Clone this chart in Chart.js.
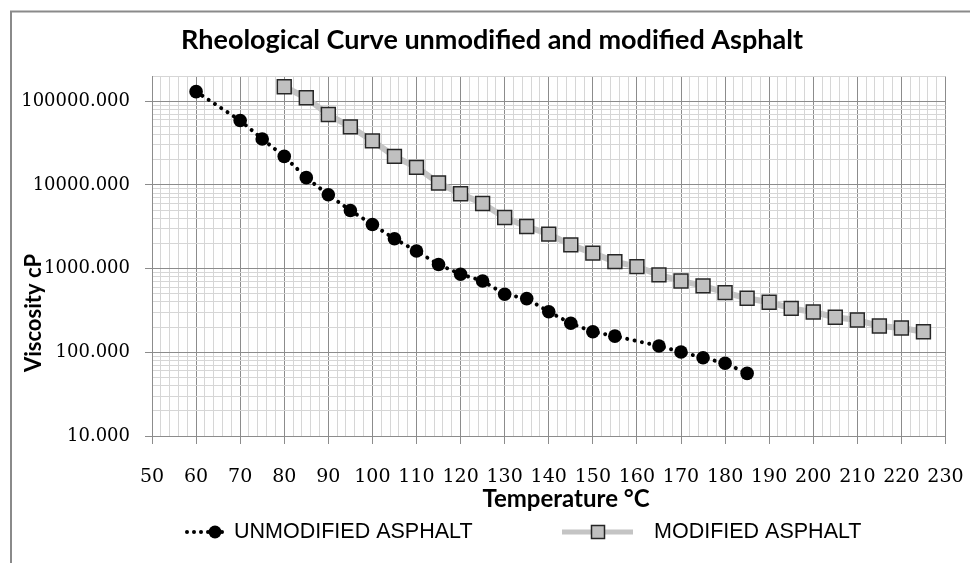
<!DOCTYPE html>
<html><head><meta charset="utf-8">
<script src="https://cdn.jsdelivr.net/npm/chart.js@4.4.1/dist/chart.umd.min.js"></script>
<style>html,body{margin:0;padding:0;background:#fff;}canvas{display:block}</style>
</head><body>
<div style="width:970px;height:563px"><canvas id="c" width="970" height="563"></canvas></div>
<script>
// ---- data ----
const tempUnmodified = [60,70,75,80,85,90,95,100,105,110,115,120,125,130,135,140,145,150,155,165,170,175,180,185];
const viscUnmodified = [130000,58800,35400,21900,12200,7630,4950,3370,2270,1620,1120,857,712,494,438,305,222,176,156,119,101,86,74,56];
const tempModified = [80,85,90,95,100,105,110,115,120,125,130,135,140,145,150,155,160,165,170,175,180,185,190,195,200,205,210,215,220,225];
const viscModified = [148700,109800,69300,49400,33600,21950,16200,10540,7850,6000,4080,3180,2580,1920,1530,1213,1057,841,712,621,516,442,396,335,303,262,243,206,195,176];
const xTickLabels = [50,60,70,80,90,100,110,120,130,140,150,160,170,180,190,200,210,220,230];
const yTickLabels = [10,100,1000,10000,100000];
const seriesNames = ['UNMODIFIED ASPHALT','MODIFIED ASPHALT'];
const titleText = 'Rheological Curve unmodified and modified Asphalt';
const xTitle = 'Temperature °C';
const yTitle = 'Viscosity cP';

// ---- layout / style ----
const PAD_L = 14, CANVAS_W = 970, CANVAS_H = 563;
const PLOT_L = 152, PLOT_R = 945.5, PLOT_T = 76, PLOT_B = 436;
const MAJOR = '#8c8c8c', MINOR = '#d6d6d6';
const sansBold = "Lato, Calibri, 'Open Sans', sans-serif";
const serif = "'DejaVu Serif', Cambria, serif";

const frame = {
  id: 'frame',
  beforeDraw(chart) {
    const ctx = chart.ctx;
    ctx.save();
    ctx.fillStyle = '#fff';
    ctx.fillRect(0, 0, chart.width, chart.height);
    ctx.strokeStyle = '#8a8a8a'; ctx.lineWidth = 2;
    ctx.beginPath(); ctx.moveTo(11, chart.height + 5); ctx.lineTo(11, 11.5); ctx.lineTo(chart.width + 5, 11.5); ctx.stroke();
    ctx.restore();
  }
};

// axis titles (placed where the reference has them) and the legend
const annotations = {
  id: 'annotations',
  afterDraw(chart) {
    const ctx = chart.ctx;
    ctx.save();
    ctx.fillStyle = '#000';
    ctx.textAlign = 'center'; ctx.textBaseline = 'middle';
    // x-axis title
    ctx.font = "bold 24px " + sansBold;
    ctx.fillText(xTitle, 566, 499);
    // y-axis title
    ctx.translate(34, 313);
    ctx.rotate(-Math.PI / 2);
    ctx.font = "bold 22px " + sansBold;
    ctx.fillText(yTitle, 0, 0);
    ctx.restore();

    const cy = 532;
    ctx.save();
    // unmodified: dotted black line with circle
    ctx.fillStyle = '#000';
    for (let x = 187; x <= 227; x += 7) { ctx.beginPath(); ctx.arc(x, cy, 2, 0, Math.PI * 2); ctx.fill(); }
    ctx.beginPath(); ctx.arc(215, cy, 6.5, 0, Math.PI * 2); ctx.fill();
    // modified: grey line with square
    ctx.strokeStyle = '#c4c4c4'; ctx.lineWidth = 5;
    ctx.beginPath(); ctx.moveTo(562, cy); ctx.lineTo(633, cy); ctx.stroke();
    ctx.fillStyle = '#c0c0c0'; ctx.fillRect(591.5, cy - 6.5, 13, 13);
    ctx.strokeStyle = '#262626'; ctx.lineWidth = 1.5; ctx.strokeRect(591.5, cy - 6.5, 13, 13);
    // labels
    ctx.fillStyle = '#000';
    ctx.font = "21.5px 'Liberation Sans', Arial, sans-serif";
    ctx.textBaseline = 'middle'; ctx.textAlign = 'left';
    ctx.fillText(chart.data.datasets[0].label, 234, cy);
    ctx.fillText(chart.data.datasets[1].label, 654, cy);
    ctx.restore();
  }
};

const isMajorX = v => xTickLabels.includes(v);
const isMajorY = v => yTickLabels.includes(v);

new Chart(document.getElementById('c'), {
  type: 'scatter',
  data: {
    datasets: [
      {
        label: seriesNames[0],
        data: tempUnmodified.map((t, i) => ({x: t, y: viscUnmodified[i]})),
        showLine: true,
        borderColor: '#000', borderWidth: 4, borderDash: [0.01, 7.5], borderCapStyle: 'round',
        pointStyle: 'circle', pointRadius: 6.8, pointHoverRadius: 6.8,
        pointBackgroundColor: '#000', pointBorderWidth: 0, backgroundColor: '#000'
      },
      {
        label: seriesNames[1],
        data: tempModified.map((t, i) => ({x: t, y: viscModified[i]})),
        showLine: true,
        borderColor: '#c4c4c4', borderWidth: 6,
        pointStyle: 'rect', pointRadius: 9.8, pointHoverRadius: 9.8,
        pointBackgroundColor: '#c0c0c0', pointBorderColor: '#262626', pointBorderWidth: 1.5, backgroundColor: '#c0c0c0'
      }
    ]
  },
  options: {
    responsive: false, animation: false, devicePixelRatio: 1,
    layout: {padding: {left: PAD_L, right: 0, top: 14, bottom: 0}},
    plugins: {
      tooltip: {enabled: false},
      legend: {display: false},
      title: {
        display: true, text: titleText, color: '#000',
        font: {family: sansBold, size: 27, weight: 'bold', lineHeight: 1.2},
        padding: {top: 10, bottom: PLOT_T - 14 - 10 - 27 * 1.2}
      }
    },
    scales: {
      x: {
        type: 'linear', min: 50, max: 230,
        afterBuildTicks(scale) {
          const t = [];
          for (let v = 50; v <= 230; v += 2) t.push({value: v});
          scale.ticks = t;
        },
        afterFit(scale) { scale.height = CANVAS_H - PLOT_B; scale.paddingLeft = 0; scale.paddingRight = 0; },
        ticks: {
          autoSkip: false, maxRotation: 0, color: '#000', padding: 22,
          font: {family: serif, size: 19},
          callback: v => (isMajorX(v) ? String(v) : '')
        },
        grid: {
          color: c => (c.tick && isMajorX(c.tick.value) ? MAJOR : MINOR),
          tickColor: c => (c.tick && isMajorX(c.tick.value) ? MAJOR : 'rgba(0,0,0,0)'),
          tickLength: 8, lineWidth: 1
        },
        border: {color: MAJOR},
        title: {display: false, text: xTitle}
      },
      y: {
        type: 'logarithmic', min: 10, max: 200000,
        afterBuildTicks(scale) {
          const t = [];
          for (const d of [10, 100, 1000, 10000, 100000]) {
            for (let m = 1; m <= 9; m++) { const v = d * m; if (v <= 200000) t.push({value: v}); }
          }
          t.push({value: 200000});
          scale.ticks = t;
        },
        afterFit(scale) { scale.width = PLOT_L - PAD_L; scale.paddingTop = 0; scale.paddingBottom = 0; },
        ticks: {
          autoSkip: false, color: '#000', padding: 15,
          font: {family: serif, size: 18},
          callback: v => (isMajorY(v) ? v.toFixed(3) : '')
        },
        grid: {
          color: c => (c.tick && isMajorY(c.tick.value) ? MAJOR : MINOR),
          tickColor: c => (c.tick && isMajorY(c.tick.value) ? MAJOR : 'rgba(0,0,0,0)'),
          tickLength: 7, lineWidth: 1
        },
        border: {color: MAJOR},
        title: {display: false, text: yTitle}
      },
      yr: {
        type: 'linear', position: 'right', display: true,
        grid: {display: false}, border: {display: false}, ticks: {display: false},
        afterFit(scale) { scale.width = CANVAS_W - PLOT_R; }
      }
    }
  },
  plugins: [frame, annotations]
});
</script>
</body></html>
